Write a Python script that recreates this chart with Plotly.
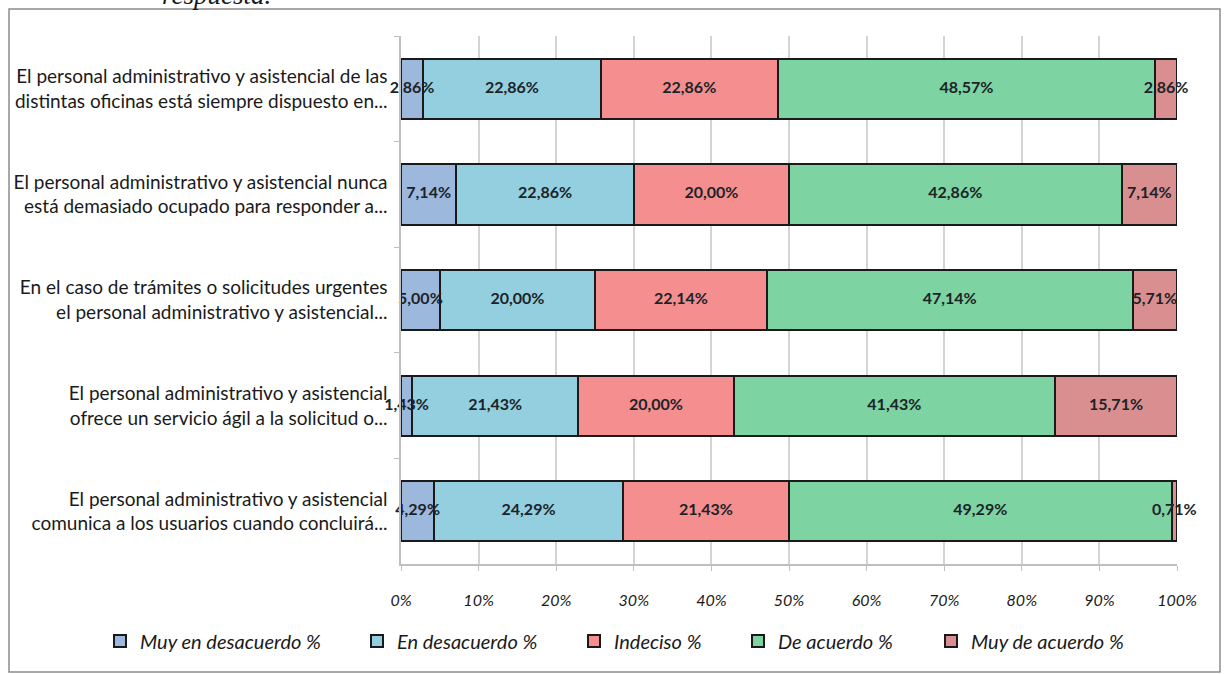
import plotly.graph_objects as go

categories = [
    "El personal administrativo y asistencial de las<br>distintas oficinas está siempre dispuesto en...",
    "El personal administrativo y asistencial nunca<br>está demasiado ocupado para responder a...",
    "En el caso de trámites o solicitudes urgentes<br>el personal administrativo y asistencial...",
    "El personal administrativo y asistencial<br>ofrece un servicio ágil a la solicitud o...",
    "El personal administrativo y asistencial<br>comunica a los usuarios cuando concluirá...",
]
series_names = ["Muy en desacuerdo %", "En desacuerdo %", "Indeciso %", "De acuerdo %", "Muy de acuerdo %"]
muy_en_desacuerdo = [2.86, 7.14, 5.00, 1.43, 4.29]
en_desacuerdo = [22.86, 22.86, 20.00, 21.43, 24.29]
indeciso = [22.86, 20.00, 22.14, 20.00, 21.43]
de_acuerdo = [48.57, 42.86, 47.14, 41.43, 49.29]
muy_de_acuerdo = [2.86, 7.14, 5.71, 15.71, 0.71]
tick_vals = [0, 10, 20, 30, 40, 50, 60, 70, 80, 90, 100]
tick_text = [f"{v}%" for v in tick_vals]

series_values = [muy_en_desacuerdo, en_desacuerdo, indeciso, de_acuerdo, muy_de_acuerdo]
colors = ["#9db8dd", "#93cfdf", "#f58e8e", "#7dd3a2", "#d98f8f"]

FONT = "Lato, Carlito, Noto Sans, sans-serif"

# figure geometry (px)
W, H = 1227, 674
ML, MR, MT, MB = 401, 50, 36, 110
PW, PH = W - ML - MR, H - MT - MB


def px_x(px):
    return (px - ML) / PW


def px_y(py):
    return (H - MB - py) / PH


fig = go.Figure()
legend_ids = ["legend", "legend2", "legend3", "legend4", "legend5"]
for name, vals, col, lid in zip(series_names, series_values, colors, legend_ids):
    fig.add_trace(go.Bar(
        y=categories,
        x=vals,
        name=name,
        orientation="h",
        marker=dict(color=col, line=dict(color="#1a1a1a", width=2)),
        legend=lid,
        hoverinfo="x+name",
    ))

# data labels, drawn on top of all bars, centred on each segment
lab_x, lab_y, lab_t = [], [], []
for i, cat in enumerate(categories):
    left = 0.0
    for vals in series_values:
        v = vals[i]
        lab_x.append(left + v / 2)
        lab_y.append(cat)
        lab_t.append(f"{v:.2f}%".replace(".", ","))
        left += v
fig.add_trace(go.Scatter(
    x=lab_x, y=lab_y, text=lab_t, mode="text",
    textposition="middle center",
    textfont=dict(family=FONT, size=16, color="#1c2328", weight="bold"),
    cliponaxis=False, showlegend=False, hoverinfo="skip",
))

legend_text_starts = [140, 397, 614, 778, 971]
legend_common = dict(
    orientation="h",
    yanchor="middle",
    xanchor="left",
    bgcolor="rgba(0,0,0,0)",
    font=dict(family=FONT, size=20, color="#1a1a1a", style="italic"),
    itemwidth=30,
)
layout_legends = {}
for lid, ts in zip(legend_ids, legend_text_starts):
    layout_legends[lid] = dict(x=px_x(ts - 40), y=px_y(641), **legend_common)

fig.update_layout(
    width=W,
    height=H,
    margin=dict(l=ML, r=MR, t=MT, b=MB),
    paper_bgcolor="white",
    plot_bgcolor="white",
    barmode="stack",
    bargap=0.43,
    showlegend=True,
    **layout_legends,
    xaxis=dict(
        range=[0, 100],
        tickvals=tick_vals,
        ticktext=tick_text,
        tickfont=dict(family=FONT, size=16, color="#1a1a1a", style="italic"),
        showgrid=True,
        gridcolor="#d4d4d4",
        gridwidth=1.5,
        showline=True,
        linecolor="#bfbfbf",
        linewidth=1.5,
        ticks="outside",
        ticklen=5,
        tickcolor="#bfbfbf",
        ticklabelstandoff=16,
        zeroline=False,
        automargin=False,
        fixedrange=True,
    ),
    yaxis=dict(
        autorange="reversed",
        tickfont=dict(family=FONT, size=19, color="#1a1a1a"),
        showline=True,
        linecolor="#bfbfbf",
        linewidth=1.5,
        ticks="outside",
        tickson="boundaries",
        ticklen=5,
        tickcolor="#bfbfbf",
        ticklabelstandoff=8,
        showgrid=False,
        automargin=False,
        fixedrange=True,
    ),
    shapes=[
        dict(type="rect", xref="paper", yref="paper",
             x0=px_x(9), x1=px_x(1220), y0=px_y(672), y1=px_y(9),
             line=dict(color="#8c8c8c", width=1.5), fillcolor="rgba(0,0,0,0)", layer="below"),
    ],
    annotations=[
        dict(text="respuesta.", xref="paper", yref="paper", x=px_x(160), y=px_y(12),
             xanchor="left", yanchor="bottom", showarrow=False,
             font=dict(family="Liberation Serif, serif", size=27, color="#1a1a1a", style="italic")),
    ],
)

fig.write_html("out.html")
